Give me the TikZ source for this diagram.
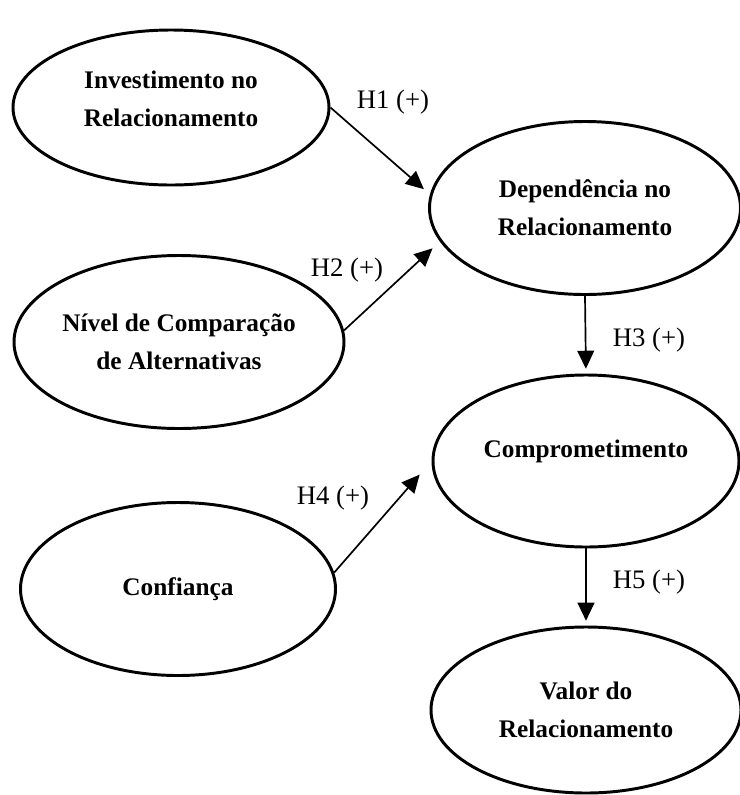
\documentclass[tikz,border=0pt]{standalone}
\usepackage{fontspec}
\setmainfont{Liberation Serif}
\usetikzlibrary{shapes, arrows.meta, calc, positioning}

\tikzset{
    construto/.style={draw, ellipse, line width=2.1pt, align=center, inner sep=0pt,
        font=\fontsize{18}{27}\selectfont\bfseries},
    hipotese/.style={-{Triangle[length=0.45cm, width=0.42cm]}, line width=1.2pt},
    rotulo/.style={inner sep=0pt, font=\fontsize{19}{23}\selectfont}
}

\begin{document}
\begin{tikzpicture}
        \useasboundingbox (0,0) rectangle (18.5,-19.875);

        \node[construto, minimum width=7.9cm, minimum height=3.875cm, text depth=12.8pt] (inv) at (4.275,-2.6875) {Investimento no\\Relacionamento};
        \node[construto, minimum width=7.775cm, minimum height=4.325cm] (dep) at (14.625,-5.2) {Dependência no\\Relacionamento};
        \node[construto, minimum width=7.9cm, minimum height=4.325cm] (niv) at (4.475,-8.55) {Nível de Comparação\\de Alternativas};
        \node[construto, minimum width=7.65cm, minimum height=4.3cm, text height=12.2pt, text depth=16.8pt] (comp) at (14.65,-11.525) {Comprometimento};
        \node[construto, minimum width=7.875cm, minimum height=4.325cm] (conf) at (4.45,-14.725) {Confiança};
        \node[construto, minimum width=7.75cm, minimum height=4.15cm] (val) at (14.65,-17.75) {Valor do\\Relacionamento};

        \node[rotulo] (h1) at (9.825,-2.55) {H1 (+)};
        \node[rotulo] (h2) at (8.675,-6.75) {H2 (+)};
        \node[rotulo] (h3) at (16.225,-8.5) {H3 (+)};
        \node[rotulo] (h4) at (8.325,-12.45) {H4 (+)};
        \node[rotulo] (h5) at (16.225,-14.55) {H5 (+)};

        \draw [hipotese, shorten >=0.2cm] (inv.east) -- (dep.175);
        \draw [hipotese, shorten >=0.25cm] (niv.4) -- (dep.193);
        \draw [hipotese, shorten >=0.12cm] (dep.south) -- (comp.north);
        \draw [hipotese, shorten >=0.45cm] (conf.6) -- (comp.west);
        \draw [hipotese, shorten >=0.12cm] (comp.south) -- (val.north);
    \end{tikzpicture}
\end{document}
